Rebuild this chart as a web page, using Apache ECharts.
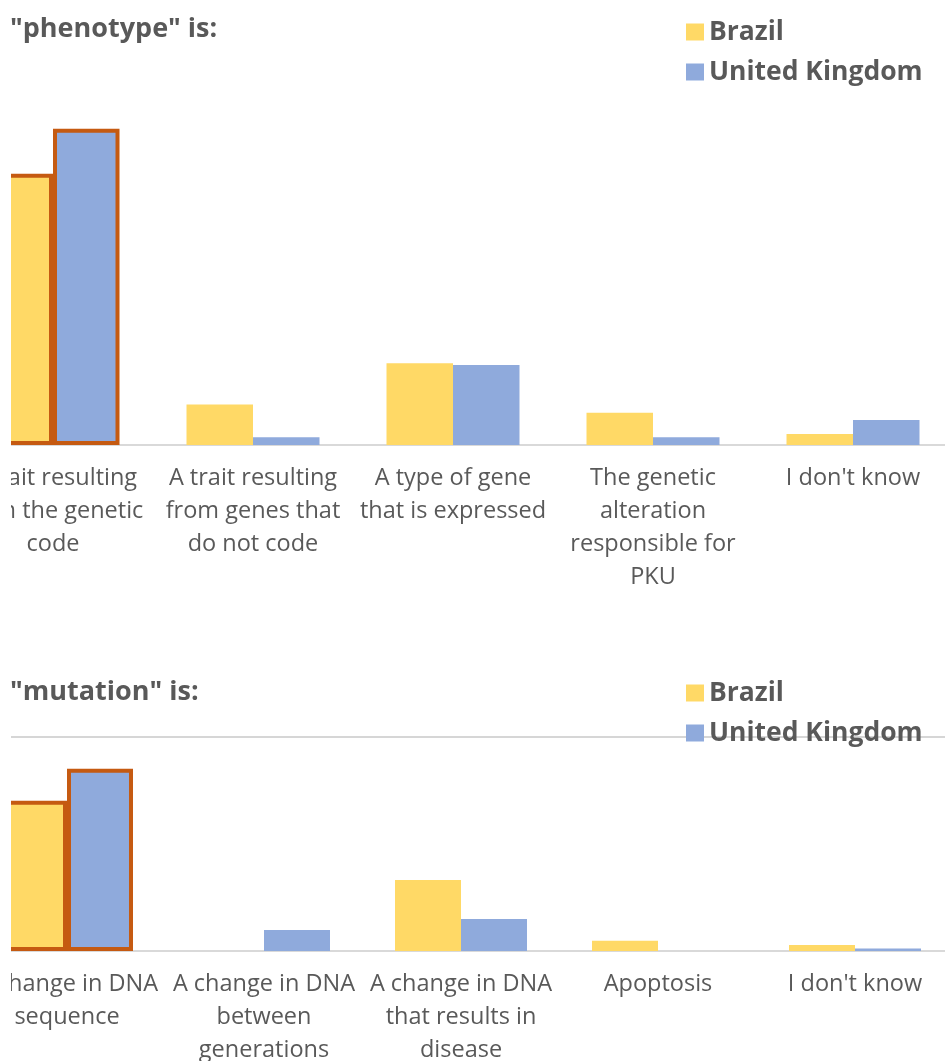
<!DOCTYPE html>
<html>
<head>
<meta charset="utf-8">
<title>Phenotype and mutation responses</title>
<script src="https://cdn.jsdelivr.net/npm/echarts@6/dist/echarts.min.js"></script>
<style>
  html, body { margin: 0; padding: 0; background: #ffffff; }
  #chart { width: 945px; height: 1061px; }
</style>
</head>
<body>
<div id="chart"></div>
<script>
// Share of respondents (%) choosing each definition
const phenotypeCategories = [
  'A trait resulting\nfrom the genetic\ncode',
  'A trait resulting\nfrom genes that\ndo not code',
  'A type of gene\nthat is expressed',
  'The genetic\nalteration\nresponsible for\nPKU',
  "I don't know"
];
const phenotypeBrazil = [62.1, 9.3, 18.7, 7.4, 2.5];
const phenotypeUK = [72.4, 1.8, 18.3, 1.8, 5.7];

const mutationCategories = [
  'A change in DNA\nsequence',
  'A change in DNA\nbetween\ngenerations',
  'A change in DNA\nthat results in\ndisease',
  'Apoptosis',
  "I don't know"
];
const mutationBrazil = [63.2, 0, 29.9, 4.3, 2.5];
const mutationUK = [76.6, 8.8, 13.5, 0, 1.1];

const seriesNames = ['Brazil', 'United Kingdom'];
const correctAnswerIndex = 0; // the correct definition is outlined

const TEXT = '#595959';
const FONT = '"Open Sans", Lato, sans-serif';
const COLORS = ['#FFD966', '#8FAADC'];
const OUTLINE = '#C55A11';

function withOutline(values) {
  return values.map((v, i) => i === correctAnswerIndex
    ? { value: v, itemStyle: { borderColor: OUTLINE, borderWidth: 4 } }
    : v);
}

function barSeries(name, values, axisIndex, color, gap) {
  return {
    name: name,
    type: 'bar',
    xAxisIndex: axisIndex,
    yAxisIndex: axisIndex,
    data: withOutline(values),
    barGap: '0%',
    barCategoryGap: gap,
    itemStyle: { color: color },
    emphasis: { disabled: true }
  };
}

function categoryAxis(gridIndex, data) {
  return {
    type: 'category',
    gridIndex: gridIndex,
    data: data,
    axisLine: { lineStyle: { color: '#D9D9D9', width: 2 } },
    axisTick: { show: false },
    axisLabel: {
      interval: 0,
      margin: 17,
      color: TEXT,
      fontFamily: FONT,
      fontSize: 23.5,
      lineHeight: 33
    }
  };
}

function valueAxis(gridIndex, showGrid) {
  return {
    type: 'value',
    gridIndex: gridIndex,
    min: 0,
    max: 90,
    interval: 90,
    axisLabel: { show: false },
    axisLine: { show: false },
    axisTick: { show: false },
    splitLine: { show: showGrid, lineStyle: { color: '#C9C9C9', width: 1.5 } }
  };
}

function legendAt(top) {
  return {
    data: seriesNames,
    orient: 'vertical',
    left: 686,
    top: top,
    padding: 0,
    icon: 'rect',
    itemWidth: 18,
    itemHeight: 17,
    itemGap: 12,
    selectedMode: false,
    textStyle: { color: TEXT, fontFamily: FONT, fontSize: 26.5, fontWeight: 'bold', lineHeight: 28 }
  };
}

function titleAt(text, top) {
  return {
    text: text,
    left: 10,
    top: top,
    padding: 0,
    textStyle: { color: TEXT, fontFamily: FONT, fontSize: 27, fontWeight: 'bold', lineHeight: 30 }
  };
}

// white strip along the left edge: the plot areas are clipped there
function leftMask(top, height) {
  return {
    type: 'rect',
    left: 0,
    top: top,
    z: 100,
    silent: true,
    shape: { width: 11, height: height },
    style: { fill: '#ffffff' }
  };
}

const chart = echarts.init(document.getElementById('chart'), null, { renderer: 'canvas' });
chart.setOption({
  animation: false,
  backgroundColor: '#ffffff',
  color: COLORS,
  title: [
    titleAt('"phenotype" is:', 14),
    titleAt('"mutation" is:', 677)
  ],
  legend: [legendAt(18), legendAt(679)],
  grid: [
    { left: -47, width: 1000, top: 52, height: 393, outerBoundsMode: 'none', containLabel: false },
    { left: -31.5, width: 985, top: 737, height: 214, outerBoundsMode: 'none', containLabel: false }
  ],
  xAxis: [categoryAxis(0, phenotypeCategories), categoryAxis(1, mutationCategories)],
  yAxis: [valueAxis(0, false), valueAxis(1, true)],
  graphic: [leftMask(100, 560), leftMask(720, 341)],
  series: [
    barSeries(seriesNames[0], phenotypeBrazil, 0, COLORS[0], '33.5%'),
    barSeries(seriesNames[1], phenotypeUK, 0, COLORS[1], '33.5%'),
    barSeries(seriesNames[0], mutationBrazil, 1, COLORS[0], '33%'),
    barSeries(seriesNames[1], mutationUK, 1, COLORS[1], '33%')
  ]
});
</script>
</body>
</html>
